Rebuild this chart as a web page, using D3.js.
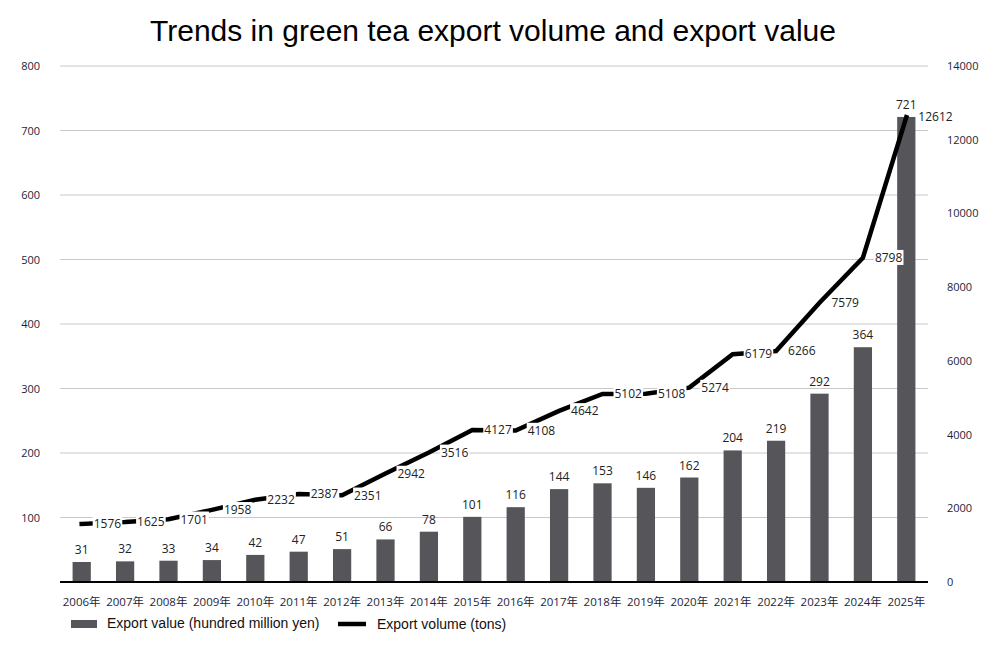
<!DOCTYPE html>
<html>
<head>
<meta charset="utf-8">
<script src="https://cdn.jsdelivr.net/npm/d3@7"></script>
<style>
  html, body { margin: 0; padding: 0; background: #fff; }
  svg { display: block; }
</style>
</head>
<body>
<svg id="chart" width="1000" height="645"></svg>
<script>
const years = ["2006年","2007年","2008年","2009年","2010年","2011年","2012年","2013年","2014年","2015年","2016年","2017年","2018年","2019年","2020年","2021年","2022年","2023年","2024年","2025年"];
const exportValue = [31,32,33,34,42,47,51,66,78,101,116,144,153,146,162,204,219,292,364,721];
const exportVolume = [1576,1625,1701,1958,2232,2387,2351,2942,3516,4127,4108,4642,5102,5108,5274,6179,6266,7579,8798,12612];
const leftTicks = [100,200,300,400,500,600,700,800];
const rightTicks = [0,2000,4000,6000,8000,10000,12000,14000];
const titleText = "Trends in green tea export volume and export value";
const legendValue = "Export value (hundred million yen)";
const legendVolume = "Export volume (tons)";

(function() {
const svg = d3.select("#chart");
const pL = 60, pR = 928, pT = 66, pB = 582;
const numFont = "'Open Sans', 'Noto Sans CJK JP', sans-serif";
const tickColor = "#1c1f3a";

const x = d3.scaleBand().domain(years).range([pL, pR]).paddingInner(0.58).paddingOuter(0.29);
const yL = d3.scaleLinear().domain([0, 800]).range([pB, pT]);
const yR = d3.scaleLinear().domain([0, 14000]).range([pB, pT]);

// title
svg.append("text").attr("x", 493).attr("y", 41).attr("text-anchor", "middle")
  .attr("font-family", "'Liberation Sans', Arial, sans-serif").attr("font-size", 30)
  .attr("fill", "#000").text(titleText);

// gridlines
svg.append("g").selectAll("line").data(leftTicks).join("line")
  .attr("x1", pL).attr("x2", pR)
  .attr("y1", d => yL(d)).attr("y2", d => yL(d))
  .attr("stroke", "#c8c8c8").attr("stroke-width", 1);

// left axis
const gL = svg.append("g").attr("transform", `translate(${pL - 20},0)`)
  .call(d3.axisLeft(yL).tickValues(leftTicks).tickFormat(d3.format("d")).tickSize(0).tickPadding(0));
gL.select(".domain").remove();
gL.selectAll("text").attr("font-family", numFont).attr("font-size", 11).attr("fill", tickColor);

// right axis
const gR = svg.append("g").attr("transform", `translate(${pR + 19},0)`)
  .call(d3.axisRight(yR).tickValues(rightTicks).tickFormat(d3.format("d")).tickSize(0).tickPadding(0));
gR.select(".domain").remove();
gR.selectAll("text").attr("font-family", numFont).attr("font-size", 11).attr("fill", tickColor);

// bars
svg.append("g").selectAll("rect").data(years).join("rect")
  .attr("x", d => x(d)).attr("width", x.bandwidth())
  .attr("y", (d, i) => yL(exportValue[i]))
  .attr("height", (d, i) => yL(0) - yL(exportValue[i]))
  .attr("fill", "#55555a");

// baseline
svg.append("line").attr("x1", pL).attr("x2", pR).attr("y1", pB).attr("y2", pB)
  .attr("stroke", "#000").attr("stroke-width", 2);

// x axis labels
const gX = svg.append("g").attr("transform", `translate(0,${pB + 16})`)
  .call(d3.axisBottom(x).tickSize(0).tickPadding(0));
gX.select(".domain").remove();
gX.selectAll("text").attr("font-family", numFont).attr("font-size", 11.5).attr("fill", tickColor);

// bar labels
svg.append("g").selectAll("text").data(years).join("text")
  .attr("x", d => x(d) + x.bandwidth() / 2)
  .attr("y", (d, i) => yL(exportValue[i]) - 8)
  .attr("text-anchor", "middle")
  .attr("font-family", numFont).attr("font-size", 12).attr("fill", "#222")
  .text((d, i) => exportValue[i]);

// line
const line = d3.line()
  .x((d, i) => x(years[i]) + x.bandwidth() / 2)
  .y(d => yR(d));
svg.append("path").datum(exportVolume).attr("d", line)
  .attr("fill", "none").attr("stroke", "#000").attr("stroke-width", 4.5)
  .attr("stroke-linecap", "square");

// line labels with white background
const lbl = svg.append("g").selectAll("g").data(exportVolume).join("g")
  .attr("transform", (d, i) => `translate(${x(years[i]) + x.bandwidth() / 2 + 12},${yR(d) + 1})`);
const lt = lbl.append("text")
  .attr("dominant-baseline", "middle")
  .attr("font-family", numFont).attr("font-size", 12).attr("fill", "#222")
  .text(d => d);
lt.each(function() {
  const b = this.getBBox();
  d3.select(this.parentNode).insert("rect", "text")
    .attr("x", b.x - 1).attr("y", b.y + 1).attr("width", b.width + 2).attr("height", b.height - 2)
    .attr("fill", "#fff");
});

// legend
const leg = svg.append("g");
leg.append("rect").attr("x", 71).attr("y", 620).attr("width", 26).attr("height", 8).attr("fill", "#55555a");
leg.append("text").attr("x", 107).attr("y", 624).attr("dominant-baseline", "middle")
  .attr("font-family", "'Liberation Sans', Arial, sans-serif").attr("font-size", 14).attr("fill", "#111")
  .text(legendValue);
leg.append("line").attr("x1", 338).attr("x2", 366).attr("y1", 624).attr("y2", 624)
  .attr("stroke", "#000").attr("stroke-width", 4.5);
leg.append("text").attr("x", 377).attr("y", 625).attr("dominant-baseline", "middle")
  .attr("font-family", "'Liberation Sans', Arial, sans-serif").attr("font-size", 14).attr("fill", "#111")
  .text(legendVolume);
})();
</script>
</body>
</html>
